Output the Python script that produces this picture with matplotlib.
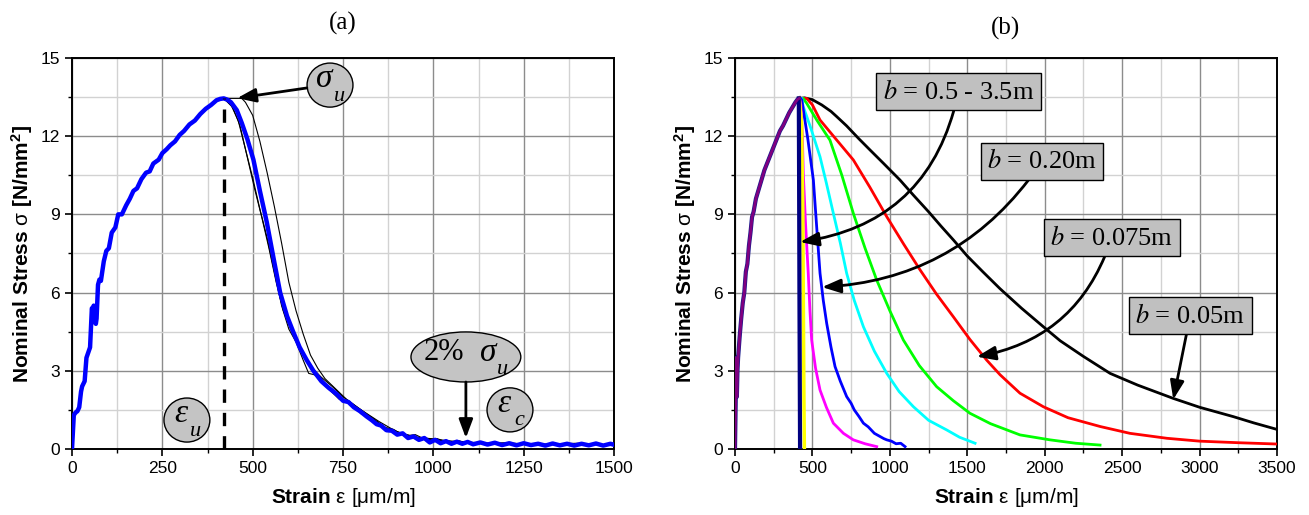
import numpy as np
import matplotlib
matplotlib.use("Agg")
import matplotlib.pyplot as plt
from matplotlib.patches import Ellipse
from matplotlib.transforms import offset_copy

plt.rcParams['font.family'] = ['Liberation Sans', 'DejaVu Sans']
plt.rcParams['mathtext.fontset'] = 'custom'
plt.rcParams['mathtext.rm'] = 'Liberation Sans'
plt.rcParams['mathtext.bf'] = 'Liberation Sans:bold'
plt.rcParams['mathtext.it'] = 'Liberation Sans:italic'

# ---- (a) data: strain [um/m], stress [N/mm2]
blue_x = [0, 5, 10, 15, 20, 25, 28, 35, 40, 45, 50, 55, 58, 60, 62, 66, 68, 72, 76, 80, 88, 95, 102, 110,
          120, 128, 138, 150, 160, 170, 180, 192, 205, 215, 225, 240, 250, 262, 272, 285, 298, 310, 325,
          340, 355, 370, 385, 400, 410, 420, 430, 440, 456, 470, 485, 502, 520, 539, 558, 576, 595, 612,
          630, 650, 668, 690, 710, 733, 750, 765, 780, 797, 815, 830, 843, 855, 870, 885, 900, 915, 930,
          945, 960, 975, 990, 1005, 1020, 1035, 1050, 1065, 1080, 1095, 1110, 1130, 1150, 1170, 1190,
          1210, 1230, 1250, 1270, 1290, 1310, 1330, 1350, 1370, 1390, 1410, 1430, 1450, 1470, 1490, 1500]
blue_y = [0, 1.3, 1.4, 1.45, 1.6, 2.2, 2.4, 2.6, 3.5, 3.7, 3.9, 5.4, 5.3, 5.5, 4.9, 4.8, 5.0, 6.3, 6.5,
          6.45, 7.2, 7.6, 7.7, 8.3, 8.5, 9.0, 9.0, 9.35, 9.6, 9.9, 10.0, 10.35, 10.6, 10.65, 10.95, 11.1,
          11.35, 11.5, 11.65, 11.8, 12.05, 12.2, 12.45, 12.6, 12.85, 13.05, 13.2, 13.38, 13.43, 13.45,
          13.4, 13.3, 13.0, 12.5, 11.9, 11.1, 9.9, 8.7, 7.3, 6.0, 5.1, 4.5, 3.9, 3.4, 3.0, 2.6, 2.35,
          2.1, 1.85, 1.8, 1.6, 1.45, 1.25, 1.1, 0.95, 0.9, 0.72, 0.7, 0.55, 0.6, 0.42, 0.48, 0.35, 0.42,
          0.25, 0.35, 0.22, 0.3, 0.2, 0.28, 0.2, 0.27, 0.18, 0.25, 0.17, 0.24, 0.15, 0.22, 0.14, 0.22,
          0.15, 0.2, 0.13, 0.21, 0.14, 0.2, 0.13, 0.2, 0.14, 0.21, 0.13, 0.2, 0.16]

k1_x = [420, 470, 480, 500, 520, 540, 560, 580, 600, 620, 640, 660, 680, 700, 730, 760, 800, 850, 900,
        950, 1000, 1050, 1100, 1150, 1200, 1300, 1400, 1500]
k1_y = [13.45, 13.45, 13.3, 12.8, 11.8, 10.6, 9.3, 7.9, 6.4, 5.3, 4.4, 3.6, 3.1, 2.7, 2.3, 1.9, 1.5,
        1.05, 0.65, 0.45, 0.38, 0.3, 0.26, 0.22, 0.2, 0.18, 0.17, 0.16]
k2_x = [420, 440, 460, 480, 500, 520, 540, 560, 580, 600, 620, 640, 655, 670, 690, 710, 740, 770, 800,
        830, 860, 890, 920, 950, 980, 1010, 1040, 1070, 1100, 1200, 1300, 1400, 1500]
k2_y = [13.45, 13.2, 12.6, 11.5, 10.4, 9.2, 8.1, 6.8, 5.5, 4.6, 4.1, 3.4, 2.9, 2.85, 2.7, 2.3, 1.9,
        1.75, 1.35, 1.2, 0.85, 0.75, 0.5, 0.55, 0.35, 0.4, 0.25, 0.32, 0.2, 0.24, 0.15, 0.2, 0.14]
k3_x = [420, 445, 465, 485, 505, 525, 545, 565, 585, 605, 625, 645, 665, 690, 720, 750, 790, 830, 870,
        910, 950, 990, 1030, 1070, 1110, 1200, 1300, 1400, 1500]
k3_y = [13.45, 13.1, 12.4, 11.2, 10.0, 8.9, 7.7, 6.4, 5.3, 4.6, 4.0, 3.5, 3.1, 2.75, 2.4, 2.0, 1.6,
        1.2, 0.8, 0.62, 0.45, 0.4, 0.3, 0.28, 0.22, 0.2, 0.18, 0.22, 0.15]

eps_u = 420
sig_u = 13.45

# ---- (b) data
rise_x = [0, 5, 8, 12, 16, 20, 30, 40, 50, 60, 70, 80, 90, 100, 110, 120, 135, 150, 170, 190, 210, 230,
          250, 270, 290, 310, 330, 350, 370, 390, 405, 415]
rise_y = [0, 2.0, 3.5, 2.0, 3.0, 3.5, 4.3, 5.0, 5.6, 6.0, 6.8, 7.1, 7.8, 8.3, 8.9, 9.1, 9.6, 9.9, 10.3,
          10.7, 11.0, 11.3, 11.6, 11.9, 12.2, 12.4, 12.65, 12.9, 13.1, 13.3, 13.42, 13.45]

b005_x = [415, 450, 500, 560, 620, 657, 720, 800, 872, 960, 1065, 1150, 1250, 1330, 1410, 1500, 1600,
          1711, 1850, 1991, 2100, 2250, 2422, 2600, 2830, 3000, 3218, 3350, 3500]
b005_y = [13.45, 13.47, 13.4, 13.2, 12.95, 12.75, 12.4, 11.9, 11.47, 10.95, 10.32, 9.75, 9.1, 8.55,
          8.02, 7.4, 6.8, 6.15, 5.4, 4.69, 4.15, 3.55, 2.9, 2.45, 1.94, 1.6, 1.24, 1.0, 0.75]
b0075_x = [415, 463, 500, 549, 650, 764, 870, 980, 1090, 1195, 1300, 1410, 1517, 1625, 1711, 1840,
           1991, 2150, 2359, 2550, 2789, 3000, 3250, 3500]
b0075_y = [13.45, 13.45, 13.2, 12.62, 11.9, 11.09, 10.05, 8.91, 7.85, 6.87, 5.95, 5.07, 4.2, 3.41,
           2.85, 2.14, 1.62, 1.2, 0.86, 0.6, 0.41, 0.3, 0.24, 0.19]
green_x = [415, 440, 463, 530, 613, 690, 764, 840, 915, 1000, 1087, 1190, 1302, 1410, 1517, 1650, 1840,
           2034, 2200, 2357]
green_y = [13.45, 13.45, 13.26, 12.6, 11.85, 10.5, 9.04, 7.7, 6.48, 5.3, 4.18, 3.2, 2.39, 1.85, 1.37,
           0.97, 0.54, 0.35, 0.22, 0.15]
cyan_x = [415, 430, 441, 490, 549, 590, 635, 680, 721, 770, 829, 900, 980, 1060, 1152, 1250, 1367,
          1450, 1550]
cyan_y = [13.45, 13.45, 13.13, 12.3, 11.21, 10.2, 9.04, 7.9, 6.74, 5.7, 4.69, 3.75, 2.9, 2.2, 1.62,
          1.1, 0.73, 0.45, 0.22]
b020_x = [415, 425, 431, 470, 506, 530, 549, 570, 592, 620, 646, 680, 721, 750, 770, 800, 829, 860,
          900, 930, 960, 980, 1010, 1040, 1070, 1098]
b020_y = [13.45, 13.45, 13.39, 11.9, 10.32, 8.3, 6.74, 5.7, 4.82, 3.9, 3.16, 2.6, 2.01, 1.75, 1.5,
          1.25, 0.99, 0.85, 0.6, 0.5, 0.4, 0.35, 0.3, 0.2, 0.22, 0.09]
mag_x = [415, 425, 435, 441, 455, 473, 484, 495, 520, 549, 590, 635, 700, 764, 840, 915]
mag_y = [13.45, 13.2, 12.0, 10.57, 8.7, 6.74, 5.3, 4.18, 3.1, 2.26, 1.6, 0.99, 0.6, 0.35, 0.2, 0.09]
yel_x = [415, 430, 438, 442, 445, 448]
yel_y = [13.45, 12.5, 9.0, 5.0, 2.0, 0]
big_x = [412, 414, 416, 418, 420]
big_y = [13.45, 10.0, 6.0, 3.0, 0]

fig = plt.figure(figsize=(13.09, 5.15), dpi=100)
axa = fig.add_axes([0.0550, 0.1282, 0.4141, 0.7592])
axb = fig.add_axes([0.5615, 0.1282, 0.4141, 0.7592])

ylab = r"Nominal Stress $\mathrm{\sigma}$ [N/mm$^\mathbf{2}$]"
xlab = r"Strain $\mathrm{ε\ [μm/m]}$"

for ax, xmax, xmaj in [(axa, 1500, 250), (axb, 3500, 500)]:
    ax.set_xlim(0, xmax)
    ax.set_ylim(0, 15)
    ax.set_xticks(np.arange(0, xmax + 1, xmaj))
    ax.set_xticks(np.arange(xmaj / 2, xmax, xmaj), minor=True)
    ax.set_yticks(np.arange(0, 16, 3))
    ax.set_yticks(np.arange(1.5, 15, 3), minor=True)
    ax.grid(True, which='major', color='#8c8c8c', lw=1.0, zorder=0)
    ax.grid(True, which='minor', color='#d2d2d2', lw=1.0, zorder=0)
    ax.set_axisbelow(True)
    ax.tick_params(which='major', direction='out', length=5, width=1.2, labelsize=12.5)
    ax.tick_params(which='minor', direction='out', length=3, width=1.0)
    for s in ax.spines.values():
        s.set_linewidth(1.4)
    ax.set_ylabel(ylab, fontsize=15, fontweight='bold', labelpad=4)
    ax.set_xlabel(xlab, fontsize=15, fontweight='bold', labelpad=7)

# ---- panel (a)
axa.plot(k1_x, k1_y, color='black', lw=0.8, zorder=3)
axa.plot(k2_x, k2_y, color='black', lw=0.8, zorder=3)
axa.plot(k3_x, k3_y, color='black', lw=0.8, zorder=3)
axa.plot(blue_x, blue_y, color='#0000ff', lw=3.2, zorder=4)
axa.plot([eps_u, eps_u], [0, sig_u], color='black', lw=2.4, dashes=(4, 3), zorder=5)

serif = 'Liberation Serif'


def bubble(ax, cx, cy, w, h, parts):
    ax.add_patch(Ellipse((cx, cy), w, h, facecolor='#c4c4c4', edgecolor='black', lw=1.0, zorder=6))
    for txt, dx, dy, size, st in parts:
        tr = offset_copy(ax.transData, fig=fig, x=dx, y=dy, units='dots')
        ax.text(cx, cy, txt, transform=tr, ha='center', va='center', fontsize=size,
                family=serif, style=st, zorder=7)


bubble(axa, 714, 13.96, 127, 1.69, [('σ', -6, 6, 24, 'italic'), ('u', 9, -11, 16, 'italic')])
bubble(axa, 318, 1.11, 127, 1.69, [('ε', -6, 6, 24, 'italic'), ('u', 9, -11, 16, 'italic')])
bubble(axa, 1090, 3.53, 304, 1.92, [('2%', -22, 4, 22, 'normal'), ('σ', 22, 4, 24, 'italic'),
                                    ('u', 37, -13, 16, 'italic')])
bubble(axa, 1212, 1.50, 127, 1.69, [('ε', -6, 6, 24, 'italic'), ('c', 9, -11, 16, 'italic')])

arrow_kw = dict(arrowstyle='-|>,head_length=0.8,head_width=0.3', color='black', lw=2.0,
                shrinkA=0, shrinkB=0, mutation_scale=14)
axa.annotate('', xy=(457, 13.46), xytext=(650, 13.85), arrowprops=arrow_kw, zorder=6)
axa.annotate('', xy=(1090, 0.42), xytext=(1090, 2.57), arrowprops=arrow_kw, zorder=6)

# ---- panel (b)
axb.plot(rise_x, rise_y, color='#1a1a8c', lw=3.0, zorder=3)
axb.plot(b005_x, b005_y, color='black', lw=2.0, zorder=3)
axb.plot(b0075_x, b0075_y, color='#ff0000', lw=2.0, zorder=3)
axb.plot(green_x, green_y, color='#00ff00', lw=2.0, zorder=3)
axb.plot(cyan_x, cyan_y, color='#00ffff', lw=2.0, zorder=3)
axb.plot(b020_x, b020_y, color='#0000ff', lw=2.0, zorder=3)
axb.plot(mag_x, mag_y, color='#ff00ff', lw=2.0, zorder=3)
axb.plot(yel_x, yel_y, color='#ffff00', lw=2.5, zorder=3)
axb.plot(big_x, big_y, color='#000080', lw=3.0, zorder=3)
axb.plot(rise_x, rise_y, color='#800080', lw=2.0, zorder=4)

box = dict(boxstyle='square,pad=0.25', facecolor='#c0c0c0', edgecolor='black', lw=1.0)
labels_b = [(r'$b$ = 0.5 - 3.5m', (1442, 13.7), (420, 7.94), -0.35),
            (r'$b$ = 0.20m', (1982, 11.04), (562, 6.21), -0.25),
            (r'$b$ = 0.075m', (2432, 8.11), (1561, 3.54), -0.3),
            (r'$b$ = 0.05m', (2939, 5.11), (2830, 1.9), 0.0)]
for txt, pos, tip, rad in labels_b:
    axb.annotate(txt, xy=tip, xytext=pos, ha='center', va='center', fontsize=19,
                 family=serif, math_fontfamily='stix', bbox=box, zorder=6,
                 arrowprops=dict(arrowstyle='-|>,head_length=0.8,head_width=0.3', color='black',
                                 lw=2.0, shrinkA=0, shrinkB=0, mutation_scale=14,
                                 connectionstyle='arc3,rad=%s' % rad))

fig.text(343 / 1309, 1 - 23 / 515, '(a)', ha='center', va='center', fontsize=18, family=serif)
fig.text(1006 / 1309, 1 - 28 / 515, '(b)', ha='center', va='center', fontsize=18, family=serif)

fig.savefig('out.png', dpi=100)
